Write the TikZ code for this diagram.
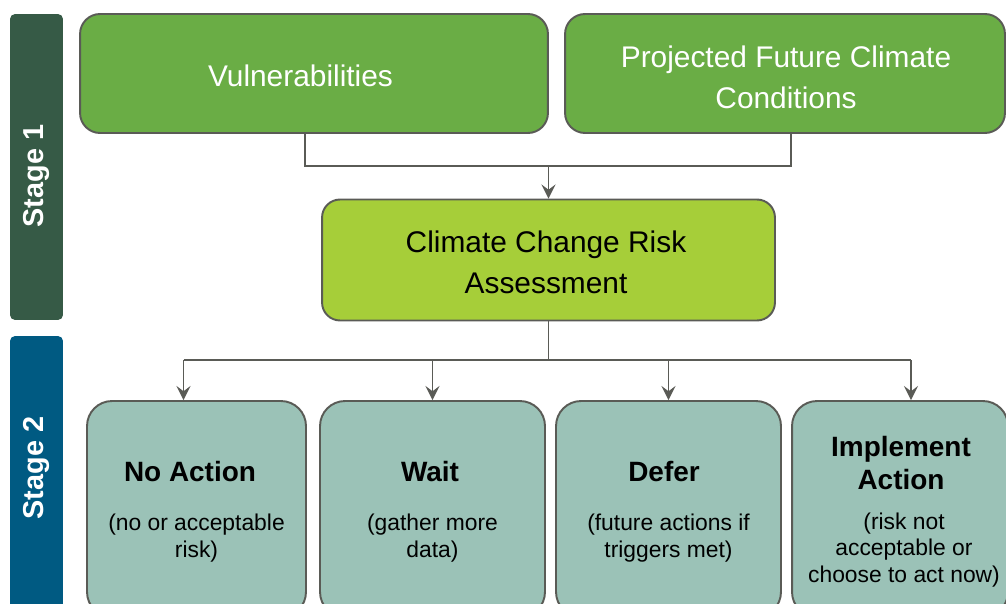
\documentclass[tikz,border=0pt]{standalone}
\usepackage{fontspec}
\setmainfont{Liberation Sans}
\usetikzlibrary{arrows.meta, positioning, shapes}
\usepackage{xcolor}

\definecolor{stageonecol}{HTML}{365A46}
\definecolor{stagetwocol}{HTML}{005A82}
\definecolor{topgreen}{HTML}{6AAD45}
\definecolor{riskgreen}{HTML}{A6CE39}
\definecolor{choicecol}{HTML}{9BC2B7}
\definecolor{edgegray}{HTML}{5A5B56}

\tikzset{
    box/.style={draw=edgegray, line width=1.1pt, rounded corners=0.4cm, align=center, inner sep=0pt},
    choice/.style={box, fill=choicecol, rounded corners=0.5cm, minimum height=4.32cm},
    link/.style={draw=edgegray, line width=1.1pt},
    arrow/.style={link, -{Stealth[length=8pt, width=8pt, inset=3pt]}},
    stagebar/.style={rounded corners=0.1cm, minimum width=1.06cm, inner sep=0pt},
    stagetext/.style={rotate=90, text=white, inner sep=0pt, font=\bfseries\fontsize{16.4}{19}\selectfont},
    toptext/.style={align=center, inner sep=0pt, font=\fontsize{17}{23.2}\selectfont},
    titletext/.style={align=center, inner sep=0pt, font=\bfseries\fontsize{15.9}{18.7}\selectfont},
    desctext/.style={align=center, inner sep=0pt, font=\fontsize{13}{15.3}\selectfont}
}

\begin{document}
\begin{tikzpicture}[x=0.02cm, y=-0.02cm]
    \useasboundingbox (0,0) rectangle (1006,604);

    % Stage bars on the left
    \node[stagebar, fill=stageonecol, minimum height=6.12cm] (stage1) at (36.5,167) {};
    \node[stagetext] (stage1txt) at (36.5,176) {Stage 1};
    \node[stagebar, fill=stagetwocol, minimum height=6.08cm] (stage2) at (36.5,488) {};
    \node[stagetext] (stage2txt) at (36.5,468) {Stage 2};

    % Stage 1 boxes
    \node[box, fill=topgreen, minimum width=9.36cm, minimum height=2.38cm] (vuln) at (314,73.5) {};
    \node[toptext, text=white] (vulntxt) at (300.5,76) {Vulnerabilities};
    \node[box, fill=topgreen, minimum width=8.8cm, minimum height=2.38cm] (proj) at (785,73.5) {};
    \node[toptext, text=white] (projtxt) at (786,77) {Projected Future Climate\\Conditions};
    \node[box, fill=riskgreen, rounded corners=0.36cm, minimum width=9.06cm, minimum height=2.42cm] (risk) at (548.5,260) {};
    \node[toptext] (risktxt) at (546,262) {Climate Change Risk\\Assessment};

    % Stage 2 boxes
    \node[choice, minimum width=4.38cm] (noact) at (196.5,509) {};
    \node[choice, minimum width=4.5cm] (wait) at (432.5,509) {};
    \node[choice, minimum width=4.5cm] (defer) at (668.5,509) {};
    \node[choice, minimum width=4.32cm] (impl) at (900,509) {};

    \node[titletext] (noacttitle) at (190,472) {No Action};
    \node[desctext] (noactdesc) at (196.5,538) {(no or acceptable\\risk)};
    \node[titletext] (waittitle) at (430,472) {Wait};
    \node[desctext] (waitdesc) at (432.5,538) {(gather more\\data)};
    \node[titletext] (defertitle) at (664,472) {Defer};
    \node[desctext] (deferdesc) at (668.5,538) {(future actions if\\triggers met)};
    \node[titletext] (impltitle) at (901,463) {Implement\\Action};
    \node[desctext] (impldesc) at (904,550) {(risk not\\acceptable or\\choose to act now)};

    % Connectors into the risk assessment
    \coordinate (join) at (548.5,166);
    \coordinate (vulnout) at ([xshift=-0.18cm]vuln.south);
    \coordinate (projout) at ([xshift=0.12cm]proj.south);
    \draw[link] (vulnout) |- (join) -| (projout);
    \draw[arrow] (join) -- (risk.north);

    % Connectors to the four choices
    \coordinate (split) at (548.5,360);
    \coordinate (noactin) at ([xshift=-0.26cm]noact.north);
    \coordinate (implin) at ([xshift=0.22cm]impl.north);
    \draw[link] (risk.south) -- (split);
    \draw[link] (noactin |- split) -- (implin |- split);
    \draw[arrow] (noactin |- split) -- (noactin);
    \draw[arrow] (wait.north |- split) -- (wait.north);
    \draw[arrow] (defer.north |- split) -- (defer.north);
    \draw[arrow] (implin |- split) -- (implin);
\end{tikzpicture}
\end{document}
